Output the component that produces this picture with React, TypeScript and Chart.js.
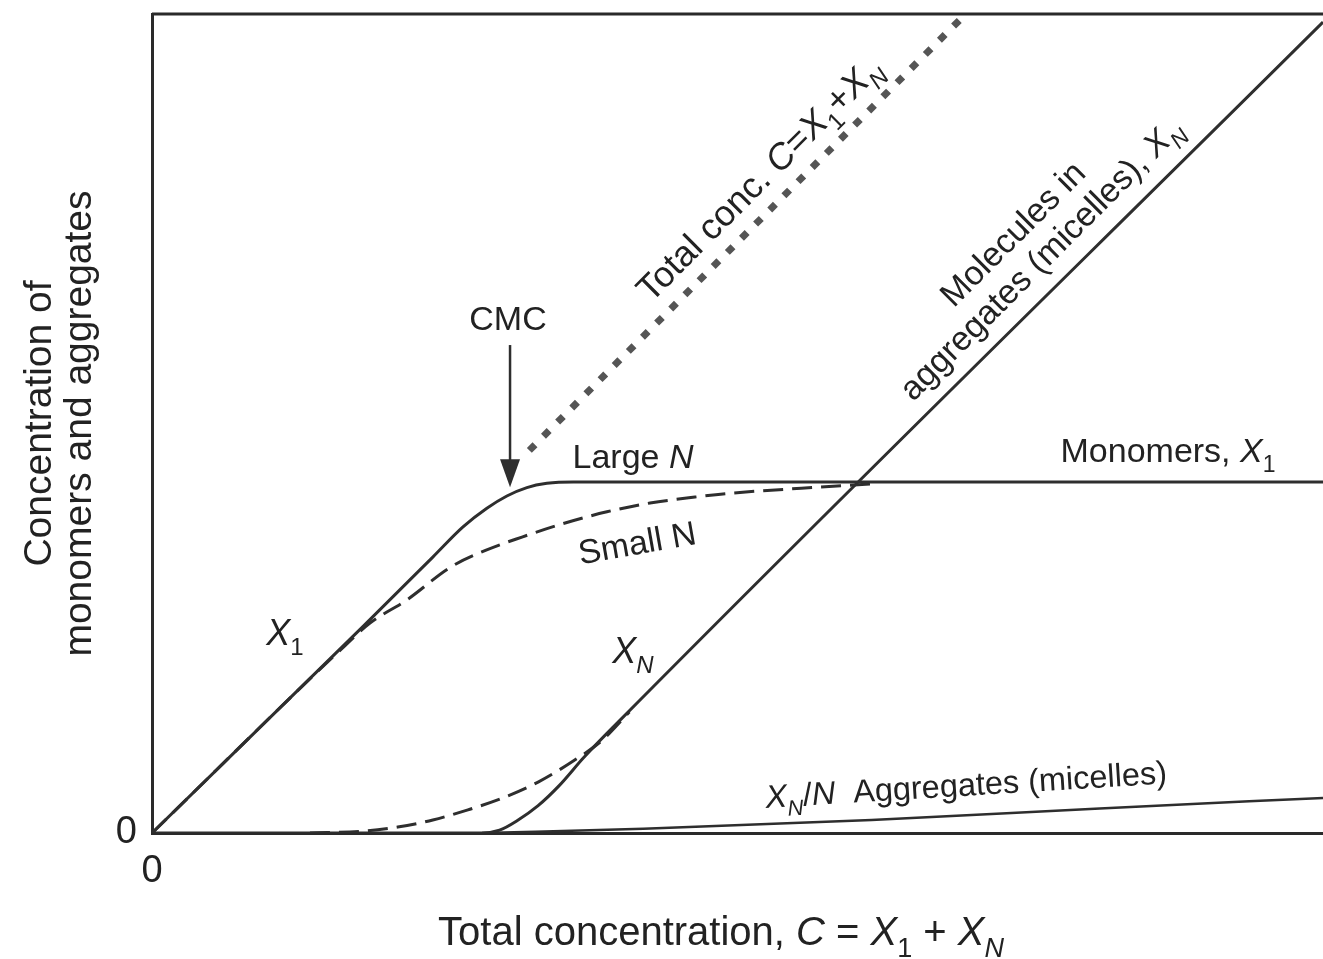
import React, { useEffect, useRef } from 'react';
import { Chart, registerables } from 'chart.js';

Chart.register(...registerables);

// ---------- data (units: total concentration in multiples of the CMC) ----------
const X_MAX = 3.336;
const Y_MAX = 2.333;
const X_TICKS = [0];
const Y_TICKS = [0];
const CMC_X = 1.02;

const X1_LARGE_N: [number, number][] = [
  [0, 0], [0.6, 0.587], [0.8, 0.786], [0.886, 0.872], [0.954, 0.925], [1.011, 0.96],
  [1.068, 0.984], [1.125, 0.996], [1.2, 1.0], [3.336, 1.0],
];
const X1_SMALL_N: [number, number][] = [
  [0, 0], [0.55, 0.534], [0.621, 0.598], [0.726, 0.664], [0.85, 0.757], [0.95, 0.805],
  [1.054, 0.843], [1.177, 0.883], [1.296, 0.915], [1.419, 0.94], [1.547, 0.957],
  [1.65, 0.968], [1.85, 0.982], [2.06, 0.995],
];
const XN_LARGE_N: [number, number][] = [
  [0, 0], [0.94, 0], [0.99, 0.008], [1.04, 0.035], [1.1, 0.078], [1.16, 0.135],
  [1.23, 0.215], [1.33, 0.318], [3.336, 2.31],
];
const XN_SMALL_N: [number, number][] = [
  [0.45, 0], [0.6, 0.005], [0.7, 0.017], [0.8, 0.037], [0.9, 0.066], [1.0, 0.1],
  [1.1, 0.145], [1.2, 0.205], [1.28, 0.262], [1.36, 0.345],
];
const XN_OVER_N: [number, number][] = [
  [0.94, 0], [1.4, 0.012], [2.05, 0.037], [2.7, 0.07], [3.336, 0.1],
];
const TOTAL_CONC: [number, number][] = [
  [1.075, 1.09], [2.32, 2.335],
];

const Y_TITLE_LINES = ['Concentration of', 'monomers and aggregates'];

// ---------- styling ----------
const FONT = '"Liberation Sans", Arial, Helvetica, sans-serif';
const INK = '#222222';
const LINE = '#2e2e2e';

type Seg = { t: string; i?: boolean; sub?: boolean };

function drawRich(
  ctx: CanvasRenderingContext2D,
  segs: Seg[],
  x: number,
  y: number,
  size: number,
  angleDeg = 0,
) {
  ctx.save();
  ctx.translate(x, y);
  ctx.rotate((angleDeg * Math.PI) / 180);
  ctx.fillStyle = INK;
  ctx.textBaseline = 'alphabetic';
  ctx.textAlign = 'left';
  const fontFor = (s: Seg) =>
    `${s.i ? 'italic ' : ''}${s.sub ? Math.round(size * 0.68) : size}px ${FONT}`;
  let w = 0;
  const widths = segs.map((s) => {
    ctx.font = fontFor(s);
    const m = ctx.measureText(s.t).width;
    w += m;
    return m;
  });
  let cx = -w / 2;
  const base = size * 0.36;
  segs.forEach((s, k) => {
    ctx.font = fontFor(s);
    ctx.fillText(s.t, cx, base + (s.sub ? size * 0.28 : 0));
    cx += widths[k];
  });
  ctx.restore();
}

const toXY = (arr: [number, number][]) => arr.map(([x, y]) => ({ x, y }));

const annotationPlugin = {
  id: 'annotations',
  beforeDraw(chart: any) {
    const { ctx } = chart;
    ctx.save();
    ctx.fillStyle = '#ffffff';
    ctx.fillRect(0, 0, chart.width, chart.height);
    ctx.restore();
  },
  afterDraw(chart: any) {
    const { ctx, chartArea } = chart;
    const xs = chart.scales.x;
    const ys = chart.scales.y;

    // top frame line
    ctx.save();
    ctx.strokeStyle = '#2a2a2a';
    ctx.lineWidth = 3;
    ctx.beginPath();
    ctx.moveTo(chartArea.left, chartArea.top);
    ctx.lineTo(chartArea.right, chartArea.top);
    ctx.stroke();

    // CMC arrow
    const ax = xs.getPixelForValue(CMC_X);
    const aTop = ys.getPixelForValue(1.39);
    const aTip = ys.getPixelForValue(0.985);
    ctx.strokeStyle = LINE;
    ctx.fillStyle = LINE;
    ctx.lineWidth = 2.5;
    ctx.beginPath();
    ctx.moveTo(ax, aTop);
    ctx.lineTo(ax, aTip - 20);
    ctx.stroke();
    ctx.beginPath();
    ctx.moveTo(ax - 10, aTip - 28);
    ctx.lineTo(ax + 10, aTip - 28);
    ctx.lineTo(ax, aTip);
    ctx.closePath();
    ctx.fill();
    ctx.restore();

    const S = 34;
    drawRich(ctx, [{ t: 'CMC' }], 508, 318, S);
    drawRich(ctx, [{ t: 'Large ' }, { t: 'N', i: true }], 633, 456, S);
    drawRich(ctx, [{ t: 'Small N' }], 637, 542, S, -10);
    drawRich(ctx, [{ t: 'X', i: true }, { t: '1', sub: true }], 285, 632, 36);
    drawRich(ctx, [{ t: 'X', i: true }, { t: 'N', i: true, sub: true }], 633, 650, 36);
    drawRich(ctx, [{ t: 'Monomers, ' }, { t: 'X', i: true }, { t: '1', sub: true }], 1168, 450, S);
    drawRich(
      ctx,
      [{ t: 'X', i: true }, { t: 'N', i: true, sub: true }, { t: '/' }, { t: 'N', i: true }, { t: '  Aggregates (micelles)' }],
      966, 784, 32.5, -3.5,
    );
    drawRich(
      ctx,
      [{ t: 'Total conc. ' }, { t: 'C', i: true }, { t: '=' }, { t: 'X', i: true }, { t: '1', sub: true }, { t: '+' }, { t: 'X', i: true }, { t: 'N', i: true, sub: true }],
      758, 178, 36, -45,
    );
    drawRich(ctx, [{ t: 'Molecules in' }], 1012, 233, S, -45);
    drawRich(
      ctx,
      [{ t: 'aggregates (micelles), ' }, { t: 'X', i: true }, { t: 'N', i: true, sub: true }],
      1040, 258, S, -45,
    );
    // x-axis title
    drawRich(
      ctx,
      [{ t: 'Total concentration, ' }, { t: 'C', i: true }, { t: ' = ' }, { t: 'X', i: true }, { t: '1', sub: true }, { t: ' + ' }, { t: 'X', i: true }, { t: 'N', i: true, sub: true }],
      721, 931, 40,
    );
  },
};

export default function App() {
  const ref = useRef<HTMLCanvasElement>(null);

  useEffect(() => {
    document.body.style.margin = '0';
    const canvas = ref.current;
    if (!canvas) return;
    const base = {
      borderColor: LINE,
      borderWidth: 3,
      pointRadius: 0,
      fill: false,
      cubicInterpolationMode: 'monotone' as const,
    };
    const chart = new Chart(canvas, {
      type: 'line',
      data: {
        datasets: [
          { ...base, label: 'X1 large N', data: toXY(X1_LARGE_N) },
          { ...base, label: 'X1 small N', data: toXY(X1_SMALL_N), borderDash: [20, 9] },
          { ...base, label: 'XN large N', data: toXY(XN_LARGE_N) },
          { ...base, label: 'XN small N', data: toXY(XN_SMALL_N), borderDash: [20, 9] },
          { ...base, label: 'XN/N', data: toXY(XN_OVER_N), borderWidth: 2.5 },
          {
            ...base,
            label: 'Total',
            data: toXY(TOTAL_CONC),
            borderColor: '#555555',
            borderWidth: 7,
            borderDash: [8, 12],
            borderCapStyle: 'butt',
            cubicInterpolationMode: 'default',
            tension: 0,
          },
        ],
      },
      options: {
        responsive: false,
        animation: false,
        maintainAspectRatio: false,
        layout: { padding: { top: 14, right: 0, left: 0, bottom: 0 } },
        plugins: { legend: { display: false }, tooltip: { enabled: false }, title: { display: false } },
        scales: {
          x: {
            type: 'linear',
            min: 0,
            max: X_MAX,
            grid: { display: false, drawTicks: false },
            border: { display: true, width: 3, color: '#2a2a2a' },
            afterBuildTicks: (scale: any) => {
              scale.ticks = X_TICKS.map((v) => ({ value: v }));
            },
            afterFit: (scale: any) => {
              scale.height = 126;
              scale.paddingLeft = 0;
              scale.paddingRight = 0;
            },
            ticks: {
              padding: 16,
              color: INK,
              font: { size: 38, family: FONT },
              maxRotation: 0,
              autoSkip: false,
              callback: (v: any) => String(v),
            },
            title: { display: false },
          },
          y: {
            type: 'linear',
            min: 0,
            max: Y_MAX,
            grid: { display: false, drawTicks: false },
            border: { display: true, width: 3, color: '#2a2a2a' },
            afterBuildTicks: (scale: any) => {
              scale.ticks = Y_TICKS.map((v) => ({ value: v }));
            },
            afterFit: (scale: any) => {
              scale.width = 152;
              scale.paddingTop = 0;
              scale.paddingBottom = 0;
            },
            ticks: {
              padding: 15,
              color: INK,
              font: { size: 38, family: FONT },
              autoSkip: false,
              callback: (v: any) => String(v),
            },
            title: {
              display: true,
              text: Y_TITLE_LINES,
              color: INK,
              font: { size: 39, family: FONT, lineHeight: 1.03 },
              padding: { top: 20, bottom: 0 },
            },
          },
        },
      },
      plugins: [annotationPlugin],
    } as any);
    return () => chart.destroy();
  }, []);

  return (
    <div style={{ width: 1323, height: 959 }}>
      <canvas ref={ref} width={1323} height={959} style={{ display: 'block' }} />
    </div>
  );
}
